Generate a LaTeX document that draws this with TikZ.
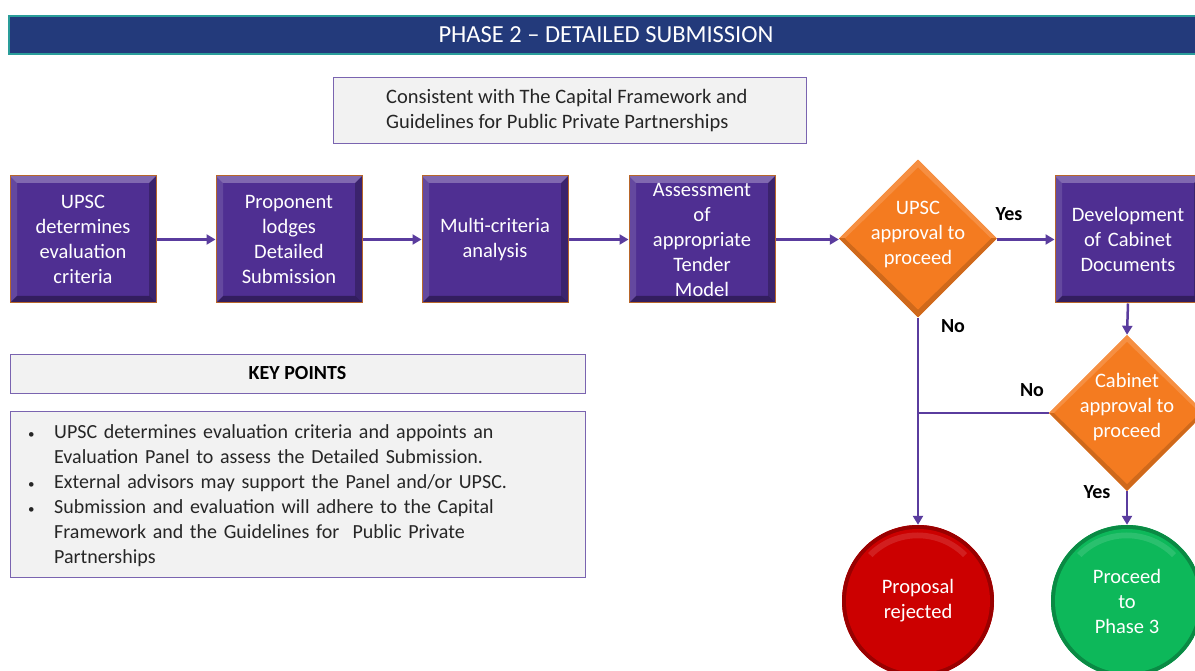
\documentclass[tikz,border=0pt]{standalone}
\usepackage{fontspec}
\setmainfont{Carlito}
\usetikzlibrary{shapes.geometric,arrows.meta,calc}
\definecolor{navy}{HTML}{233A7B}
\definecolor{tealedge}{HTML}{2A9D9A}
\definecolor{panel}{HTML}{F2F2F2}
\definecolor{lav}{HTML}{7A64B0}
\definecolor{boxfill}{HTML}{4F2F92}
\definecolor{boxedge}{HTML}{B8662A}
\definecolor{arrowc}{HTML}{5A3C9E}
\definecolor{orng}{HTML}{F47B20}
\definecolor{rd}{HTML}{CC0000}
\definecolor{grn}{HTML}{0DB85A}
\definecolor{ink}{HTML}{262626}
\newcommand{\bodyfont}{\fontsize{20.5}{25}\selectfont}
\newcommand{\kpfont}{\fontsize{20}{25}\selectfont}
\newcommand{\kpitem}[1]{\hangindent=28pt\hangafter=1\noindent\makebox[28pt][l]{\hspace{2pt}{\fontsize{13}{13}\selectfont\textbullet}}#1\par}
\begin{document}
\begin{tikzpicture}[x=1pt,y=-1pt,
  pbox/.style={rectangle, draw=boxedge, line width=1pt, fill=boxfill,
    minimum width=146pt, minimum height=127pt, inner sep=0pt,
    text width=142pt, align=center, text=white, font=\bodyfont,
    path picture={
      \fill[white,opacity=0.28] (path picture bounding box.north west) -- (path picture bounding box.north east)
        -- ([shift={(-7pt,-7pt)}]path picture bounding box.north east) -- ([shift={(7pt,-7pt)}]path picture bounding box.north west) -- cycle;
      \fill[white,opacity=0.12] (path picture bounding box.north west) -- ([shift={(7pt,-7pt)}]path picture bounding box.north west)
        -- ([shift={(7pt,7pt)}]path picture bounding box.south west) -- (path picture bounding box.south west) -- cycle;
      \fill[black,opacity=0.25] (path picture bounding box.north east) -- ([shift={(-7pt,-7pt)}]path picture bounding box.north east)
        -- ([shift={(-7pt,7pt)}]path picture bounding box.south east) -- (path picture bounding box.south east) -- cycle;
      \fill[black,opacity=0.35] (path picture bounding box.south west) -- ([shift={(7pt,7pt)}]path picture bounding box.south west)
        -- ([shift={(-7pt,7pt)}]path picture bounding box.south east) -- (path picture bounding box.south east) -- cycle;
    }},
  dmd/.style={diamond, fill=orng, minimum width=#1, minimum height=#1, inner sep=0pt, aspect=1,
    path picture={
      \fill[orng!85!white] (path picture bounding box.north west) rectangle (path picture bounding box.east);
      \fill[orng!85!black] (path picture bounding box.west) rectangle (path picture bounding box.south east);
      \fill[orng] ($(path picture bounding box.center)+(0,71pt)$) -- ($(path picture bounding box.center)+(73pt,0)$)
        -- ($(path picture bounding box.center)+(0,-71pt)$) -- ($(path picture bounding box.center)+(-73pt,0)$) -- cycle;
    }},
  dtext/.style={text=white, font=\bodyfont, align=center},
  ball/.style={circle, fill=#1, minimum size=152pt, inner sep=0pt, text=white, font=\bodyfont, align=center,
    path picture={
      \fill[#1!75!black] (path picture bounding box.south west) rectangle (path picture bounding box.north east);
      \fill[#1] (path picture bounding box.center) circle (72pt);
      \fill[white,opacity=0.12] ($(path picture bounding box.center)+(-50pt,48pt)$) arc[start angle=135,end angle=45,radius=70pt]
        -- ($(path picture bounding box.center)+(45pt,44pt)$) arc[start angle=45,end angle=135,radius=64pt] -- cycle;
    }},
  panelbox/.style={rectangle, draw=lav, line width=1pt, fill=panel, inner sep=0pt},
  arr/.style={draw=arrowc, line width=2.5pt, -{Triangle[length=9pt,width=10pt]}},
  ln/.style={draw=arrowc, line width=2.5pt},
  lbl/.style={font=\fontsize{20}{22}\selectfont\bfseries, text=black}
]
\useasboundingbox (0,0) rectangle (1195,671);
\clip (0,0) rectangle (1195,671);
\fill[white] (0,0) rectangle (1195,671);

% title bar
\node[rectangle, draw=tealedge, line width=1.2pt, fill=navy, minimum width=1194pt, minimum height=38pt,
  inner sep=0pt, text=white, font=\fontsize{24.5}{28}\selectfont] (title) at (606,35) {PHASE 2 -- DETAILED SUBMISSION};

% consistent box
\node[panelbox, minimum width=473pt, minimum height=66pt] (cons) at (569.5,111) {};
\node[anchor=west, align=left, inner sep=0pt, text=ink, font=\bodyfont] (constext) at (386,111)
  {Consistent with The Capital Framework and\\Guidelines for Public Private Partnerships};

% process boxes
\node[pbox] (b1) at (83,239.5) {UPSC\\determines\\evaluation\\criteria};
\node[pbox] (b2) at (289,239.5) {Proponent\\lodges\\Detailed\\Submission};
\node[pbox] (b3) at (495,239.5) {Multi-criteria\\analysis};
\node[pbox] (b4) at (702,239.5) {Assessment\\of\\appropriate\\Tender\\Model};
\node[pbox] (b5) at (1128,239.5) {Development\\of Cabinet\\Documents};

% decisions
\node[dmd=158pt] (d1) at (918,238.5) {};
\node[dtext] (d1t) at (918,235) {UPSC\\approval to\\proceed};
\node[dmd=156pt] (d2) at (1127,413) {};
\node[dtext] (d2t) at (1127,407) {Cabinet\\approval to\\proceed};

% terminals
\node[ball=rd] (r1) at (918,601) {Proposal\\rejected};
\node[ball=grn] (g1) at (1127,601) {Proceed\\to\\Phase 3};

% connectors
\draw[arr] (b1.east) -- (b2.west);
\draw[arr] (b2.east) -- (b3.west);
\draw[arr] (b3.east) -- (b4.west);
\draw[arr] (b4.east) -- (b4.east -| d1.west);
\draw[arr] (d1.east |- b5.west) -- (b5.west);
\draw[arr] (d1.south) -- (r1.north);
\draw[arr] (b5.south) -- (d2.north);
\coordinate (j) at (d1.south |- d2.west);
\draw[ln] (d2.west) -- (j);
\draw[arr] (d2.south) -- (g1.north);

% labels
\node[lbl] (yes1) at (1009,214) {Yes};
\node[lbl] (no1) at (953,326) {No};
\node[lbl] (no2) at (1032,390) {No};
\node[lbl] (yes2) at (1097,492) {Yes};

% key points
\node[panelbox, minimum width=575pt, minimum height=39pt, font=\fontsize{20}{22}\selectfont\bfseries, text=black]
  (kp) at (297.5,373.5) {\raisebox{-1.5pt}{KEY POINTS}};
\node[panelbox, minimum width=575pt, minimum height=166pt] (kpbox) at (297.5,494) {};
\node[anchor=north west, inner sep=0pt, text width=545pt, align=left, text=ink, font=\kpfont] (kptext) at (26,424)
  {\kpitem{UPSC determines evaluation criteria and appoints an\newline Evaluation Panel to assess the Detailed Submission.}%
   \kpitem{External advisors may support the Panel and/or UPSC.}%
   \kpitem{Submission and evaluation will adhere to the Capital\newline Framework and the Guidelines for\ \ Public Private\newline Partnerships}};
\end{tikzpicture}
\end{document}
